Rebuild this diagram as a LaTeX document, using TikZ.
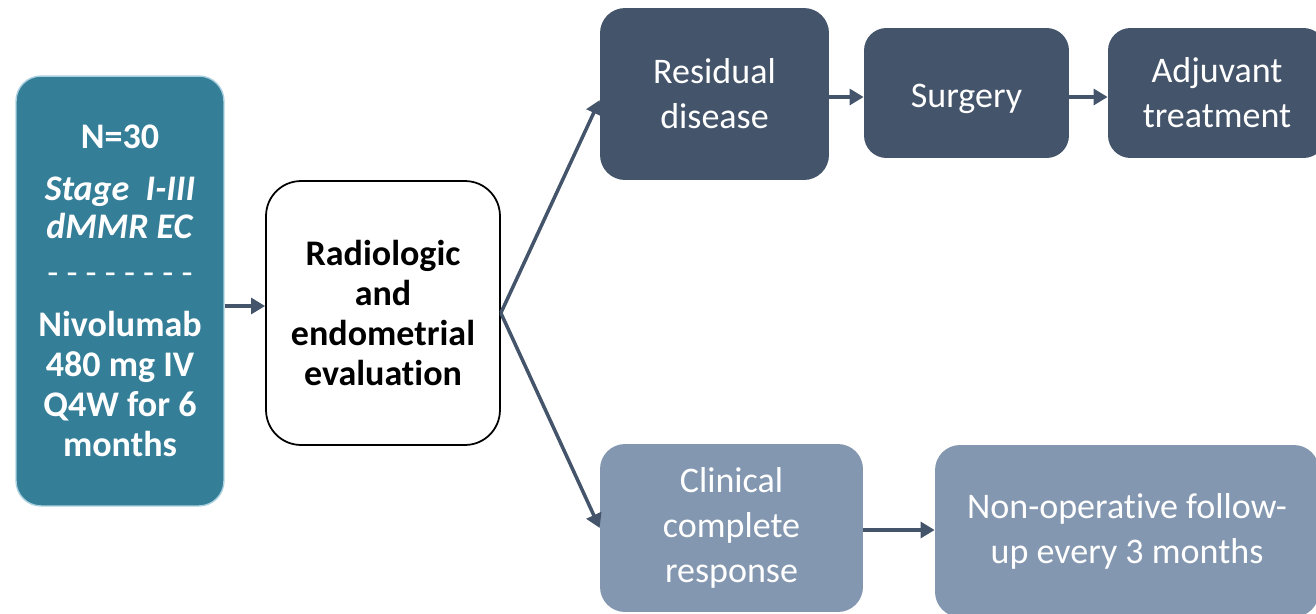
\documentclass[tikz,border=0pt]{standalone}
\usepackage{fontspec}
\setmainfont{Carlito}[Ligatures=NoCommon]
\usetikzlibrary{arrows.meta}

\definecolor{teal}{HTML}{357E98}
\definecolor{tealedge}{HTML}{A9D0DE}
\definecolor{darkslate}{HTML}{44546A}
\definecolor{lightslate}{HTML}{8497B0}

\tikzset{
    box/.style={rectangle, rounded corners=0.5cm, align=center, inner sep=0pt},
    boldtext/.style={font=\fontsize{20.5}{22.7}\selectfont\bfseries},
    plaintext/.style={font=\fontsize{20.5}{25.5}\selectfont, text=white},
    arr/.style={-{Triangle[length=8pt,width=9pt]}, line width=2pt, draw=darkslate}
}

\begin{document}
\begin{tikzpicture}[x=0.02cm, y=-0.02cm]
    \useasboundingbox (0,0) rectangle (1316,613);
    \clip (0,0) rectangle (1316,613);

    % cohort and treatment
    \node[box, boldtext, fill=teal, draw=tealedge, line width=0.8pt, text=white,
          minimum width=4.16cm, minimum height=8.6cm] (cohort) at (120,291) {
    N=30 \\[6.8pt]
    \textit{Stage\ \ I-III} \\[-1.2pt]
    \textit{dMMR EC} \\[3.5pt]
    \mdseries - - - - - - - - \\[7pt]
    Nivolumab \\
    480 mg IV \\
    Q4W for 6 \\
    months
    };

    \node[box, boldtext, rounded corners=0.7cm, fill=white, draw=black, line width=1pt,
          minimum width=4.68cm, minimum height=5.28cm] (evaluation) at (383,313) {
    Radiologic \\
    and \\
    endometrial \\
    evaluation
    };

    % residual disease branch
    \node[box, plaintext, fill=darkslate, minimum width=4.58cm, minimum height=3.44cm] (residual) at (714.5,94) {Residual \\ disease};
    \node[box, plaintext, fill=darkslate, rounded corners=0.45cm, minimum width=4.1cm, minimum height=2.6cm] (surgery) at (966.5,93) {\raisebox{-8pt}[0pt][0pt]{Surgery}};
    \node[box, plaintext, fill=darkslate, rounded corners=0.45cm, minimum width=4.36cm, minimum height=2.6cm] (adjuvant) at (1217,93) {Adjuvant \\ treatment};

    % complete response branch
    \node[box, plaintext, fill=lightslate, minimum width=5.26cm, minimum height=3.36cm] (complete) at (731.5,528) {Clinical \\ complete \\ response};
    \node[box, plaintext, fill=lightslate, minimum width=7.68cm, minimum height=3.44cm] (followup) at (1127,531) {Non-operative follow- \\ up every 3 months};

    % arrows
    \draw[arr] ([yshift=-0.3cm]cohort.east) -- ([yshift=-0.3cm]cohort.east -| evaluation.west);
    \draw[arr] (evaluation.east) -- ([yshift=-0.12cm]residual.west);
    \draw[arr] (evaluation.east) -- (complete.west);
    \draw[arr] ([yshift=-0.06cm]residual.east) -- ([yshift=-0.06cm]residual.east -| surgery.west);
    \draw[arr] ([yshift=-0.08cm]surgery.east) -- ([yshift=-0.08cm]surgery.east -| adjuvant.west);
    \draw[arr] ([yshift=-0.04cm]complete.east) -- ([yshift=-0.04cm]complete.east -| followup.west);
\end{tikzpicture}
\end{document}
